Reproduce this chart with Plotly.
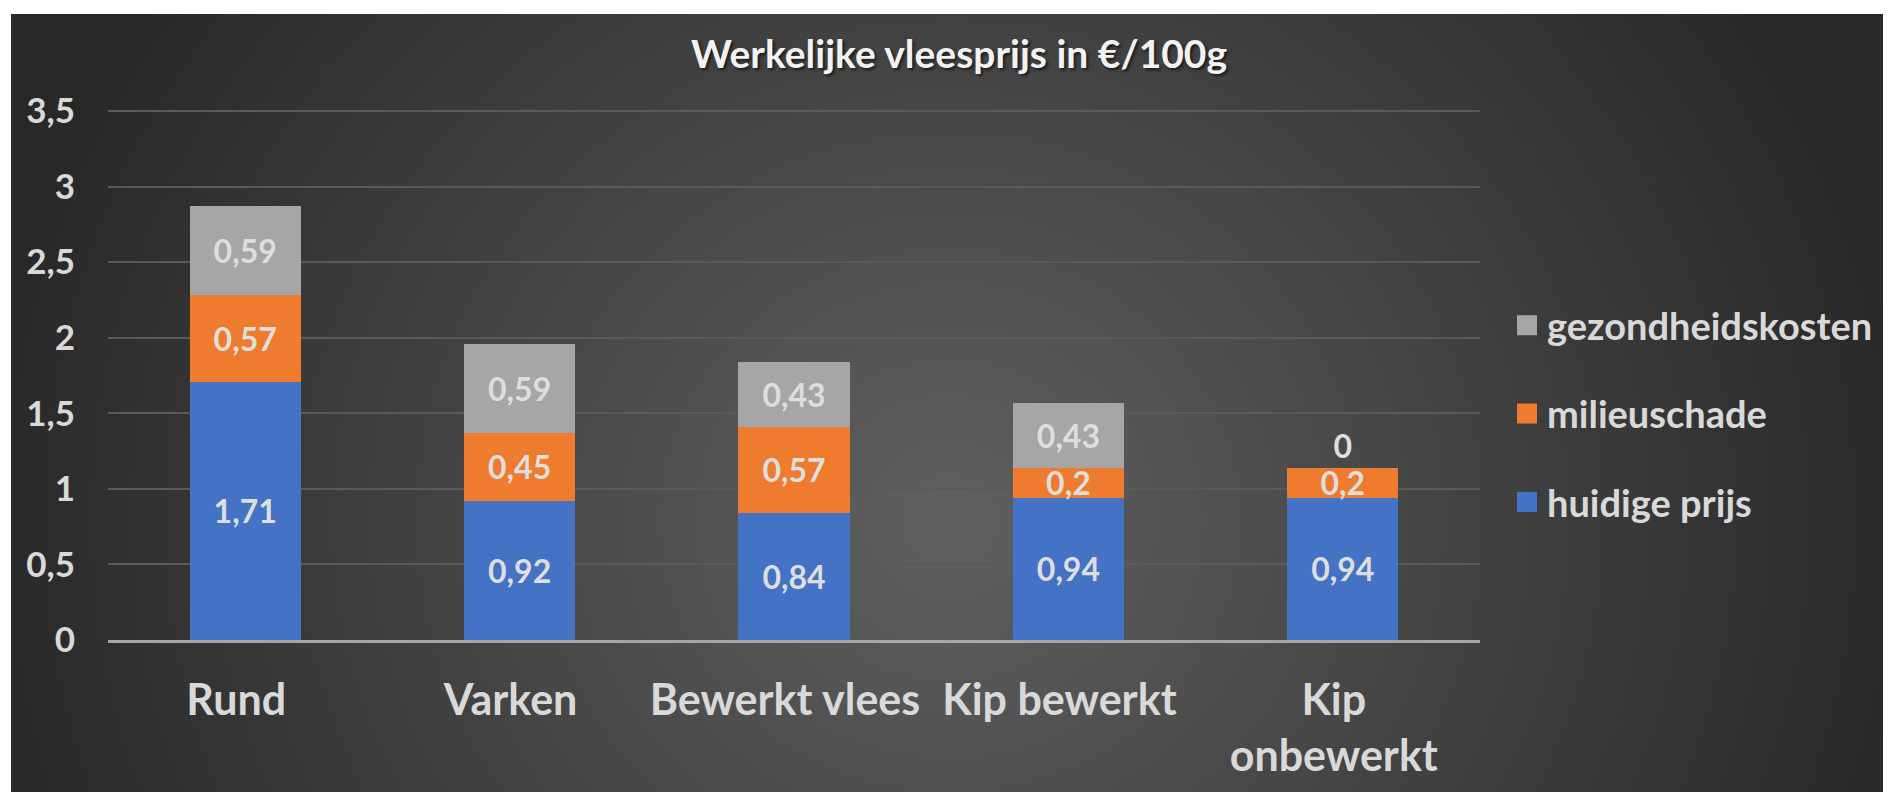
import plotly.graph_objects as go

# Werkelijke vleesprijs in euro per 100 gram, opgesplitst in drie componenten
categories = ["Rund", "Varken", "Bewerkt vlees", "Kip bewerkt", "Kip<br>onbewerkt"]
huidige_prijs = [1.71, 0.92, 0.84, 0.94, 0.94]
milieuschade = [0.57, 0.45, 0.57, 0.20, 0.20]
gezondheidskosten = [0.59, 0.59, 0.43, 0.43, 0.0]

series_names = ["huidige prijs", "milieuschade", "gezondheidskosten"]
series_values = [huidige_prijs, milieuschade, gezondheidskosten]
series_colors = ["#4472c4", "#ee7b2e", "#a6a6a6"]

# the page body adds an 8px margin, so the figure is drawn 8px smaller
OFF = 8
W, H = 1891 - OFF, 792 - OFF
# plot area in screen pixels (top is a little above the 3,5 gridline)
PLOT_L, PLOT_R, PLOT_T, PLOT_B = 108, 1480, 108, 640
Y_MAX = 3.52
TEXT = "#d9d9d9"
FONT = "Lato"


def px_x(px):
    return (px - PLOT_L) / (PLOT_R - PLOT_L)


def px_y(py):
    return (PLOT_B - py) / (PLOT_B - PLOT_T)


def fmt(v):
    return f"{v:g}".replace(".", ",")


fig = go.Figure()

for name, values, color in zip(series_names, series_values, series_colors):
    fig.add_trace(
        go.Bar(
            x=categories,
            y=values,
            name=name,
            showlegend=False,
            marker={"color": color, "line": {"width": 0}},
            text=[fmt(v) for v in values],
            textposition=["inside" if v > 0 else "outside" for v in values],
            insidetextanchor="middle",
            constraintext="none",
            textfont={"size": 32, "color": "#dedede", "family": FONT, "weight": "bold"},
            cliponaxis=False,
            hoverinfo="name+y",
        )
    )

# legend entries with larger square swatches, top to bottom
for name, color in reversed(list(zip(series_names, series_colors))):
    fig.add_trace(
        go.Scatter(
            x=[None],
            y=[None],
            mode="markers",
            name=name,
            legendgroup=name,
            marker={"symbol": "square", "size": 16, "color": color,
                    "line": {"width": 4, "color": color}},
            hoverinfo="skip",
        )
    )

# dark chart area with a soft radial highlight, built from stacked ellipses
shapes = [
    dict(
        type="rect", xref="paper", yref="paper", layer="below",
        x0=px_x(11), x1=px_x(1910), y0=px_y(14), y1=px_y(810),
        fillcolor="#282828", line={"width": 0},
    )
]
cx, cy, ax, ay = 950, 520, 960, 900
n_layers = 56
for k in range(n_layers):
    r = 1 - k / n_layers
    shapes.append(
        dict(
            type="circle", xref="paper", yref="paper", layer="below",
            x0=px_x(cx - ax * r), x1=px_x(cx + ax * r),
            y0=px_y(cy + ay * r), y1=px_y(cy - ay * r),
            fillcolor="rgba(255,255,255,0.0086)", line={"width": 0},
        )
    )

fig.update_layout(
    width=W,
    height=H,
    margin={
        "l": PLOT_L - OFF, "r": W - (PLOT_R - OFF),
        "t": PLOT_T - OFF, "b": H - (PLOT_B - OFF),
        "pad": 0, "autoexpand": False,
    },
    paper_bgcolor="white",
    plot_bgcolor="rgba(0,0,0,0)",
    barmode="stack",
    bargap=0.595,
    separators=",.",
    shapes=shapes,
    title={
        "text": "Werkelijke vleesprijs in €/100g",
        "x": (959 - OFF) / W,
        "xanchor": "center",
        "xref": "container",
        "y": 1 - (54 - OFF) / H,
        "yanchor": "middle",
        "yref": "container",
        "font": {
            "size": 39, "color": "#f2f2f2", "family": FONT, "weight": "bold",
            "shadow": "2px 2px 3px rgba(0,0,0,0.6)",
        },
    },
    xaxis={
        "showgrid": False,
        "showline": True,
        "linecolor": "#a6a6a6",
        "linewidth": 3,
        "ticks": "",
        "ticklabelstandoff": 20,
        "ticklabelshift": -9,
        "tickfont": {"size": 43, "color": TEXT, "family": FONT, "weight": "bold"},
    },
    yaxis={
        "range": [0, Y_MAX],
        "dtick": 0.5,
        "showgrid": True,
        "gridcolor": "#5a5a5a",
        "gridwidth": 2,
        "zeroline": False,
        "showline": False,
        "ticks": "",
        "ticklabelstandoff": 32,
        "tickfont": {"size": 35, "color": TEXT, "family": FONT, "weight": "bold"},
    },
    legend={
        "x": px_x(1507),
        "xanchor": "left",
        "y": px_y(414),
        "yanchor": "middle",
        "traceorder": "grouped",
        "tracegroupgap": 36,
        "bgcolor": "rgba(0,0,0,0)",
        "font": {"size": 38, "color": TEXT, "family": FONT, "weight": "bold"},
    },
    showlegend=True,
)

fig.write_html("out.html")
